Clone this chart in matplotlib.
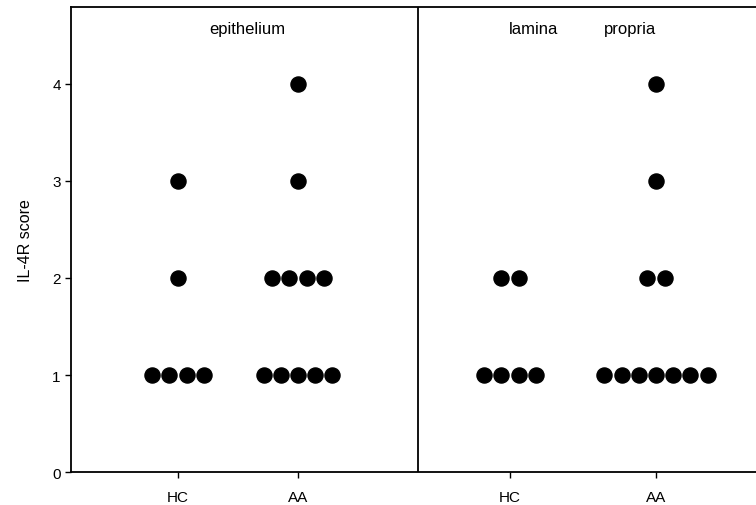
import matplotlib

matplotlib.use("Agg")  # headless
import matplotlib.pyplot as plt

plt.rcParams["font.family"] = ["Liberation Sans", "DejaVu Sans"]

# scores 1..4, number of subjects at each score
scores = [1, 2, 3, 4]
epi_hc = [4, 1, 1, 0]
epi_aa = [5, 4, 1, 1]
lp_hc = [4, 2, 0, 0]
lp_aa = [7, 2, 1, 1]

group_labels = ["HC", "AA", "HC", "AA"]
group_pos = [1.07, 2.27, 4.39, 5.85]
group_counts = [epi_hc, epi_aa, lp_hc, lp_aa]
divider = 3.47
step = 0.172  # horizontal spacing of stacked dots

fig = plt.figure(figsize=(7.56, 5.06), dpi=100)
ax = fig.add_axes([0.094, 0.065, 0.906, 0.919])

for xc, counts in zip(group_pos, group_counts):
    for s, n in zip(scores, counts):
        if n == 0:
            continue
        xs = [xc + (i - (n - 1) / 2) * step for i in range(n)]
        ax.scatter(xs, [s] * n, s=118, color="black", zorder=3)

ax.axvline(divider, color="black", lw=1.3)

ax.text(1.76, 4.57, "epithelium", ha="center", va="center", fontsize=12)
ax.text(4.63, 4.57, "lamina", ha="center", va="center", fontsize=12)
ax.text(5.59, 4.57, "propria", ha="center", va="center", fontsize=12)

ax.set_xlim(0, 6.85)
ax.set_ylim(0, 4.79)
ax.set_xticks(group_pos)
ax.set_xticklabels(group_labels, fontsize=11)
ax.set_yticks([0, 1, 2, 3, 4])
ax.tick_params(axis="both", direction="out", length=4, width=1, labelsize=11)
ax.tick_params(axis="x", pad=9)
ax.set_ylabel("IL-4R score", fontsize=11.5, labelpad=14)

ax.spines["right"].set_visible(False)
for side in ["left", "bottom", "top"]:
    ax.spines[side].set_linewidth(1.3)

fig.savefig("out.png", dpi=100)
plt.close(fig)
